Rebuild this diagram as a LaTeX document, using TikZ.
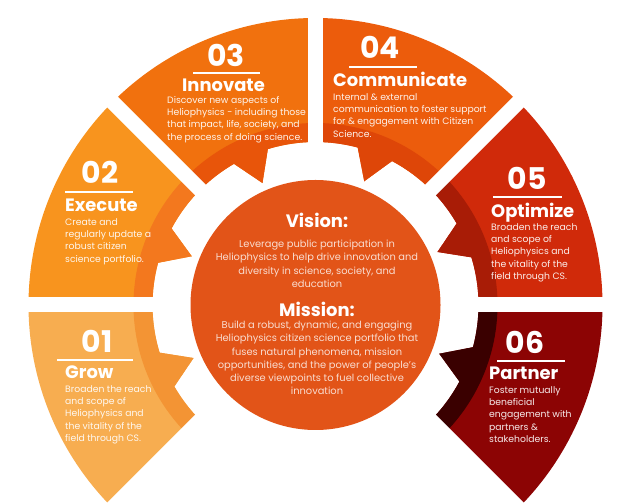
\documentclass[tikz,border=0pt]{standalone}
\usepackage{fontspec}
\setmainfont{Poppins}
\usetikzlibrary{positioning}
\definecolor{GrowBody}{RGB}{247,173,80}
\definecolor{GrowBand}{RGB}{243,148,52}
\definecolor{ExecBody}{RGB}{248,148,30}
\definecolor{ExecBand}{RGB}{243,120,30}
\definecolor{InnoBody}{RGB}{241,113,14}
\definecolor{InnoBand}{RGB}{232,85,10}
\definecolor{CommBody}{RGB}{236,92,12}
\definecolor{CommBand}{RGB}{222,70,8}
\definecolor{OptiBody}{RGB}{208,42,10}
\definecolor{OptiBand}{RGB}{168,28,6}
\definecolor{PartBody}{RGB}{140,4,4}
\definecolor{PartBand}{RGB}{58,0,0}
\definecolor{HubFill}{RGB}{226,84,24}
\tikzset{
  gap/.style={draw=white,line width=15bp},
  uline/.style={draw=white,line width=2bp},
  num/.style={text=white,font=\bfseries\fontsize{30}{30}\selectfont,inner sep=0pt},
  head/.style={text=white,font=\bfseries\fontsize{18}{18}\selectfont,inner sep=0pt,anchor=base west},
  txt/.style={font=\fontsize{9.3}{12.4}\selectfont,align=left,inner sep=0pt,anchor=north west},
  hubhead/.style={text=white,font=\bfseries\fontsize{18}{18}\selectfont,inner sep=0pt,anchor=base},
  hubtxt/.style={text=white!80!HubFill,font=\fontsize{9.9}{13.2}\selectfont,align=center,inner sep=0pt,anchor=north},
}

\begin{document}
\begin{tikzpicture}[x=1bp,y=1bp]
\useasboundingbox (0,0) rectangle (639,504);
\coordinate (C) at (315.5,199);

% ring of six pieces
\begin{scope}[shift={(C)}]
\foreach \a/\bd/\bn in {180/GrowBody/GrowBand,135/ExecBody/ExecBand,90/InnoBody/InnoBand,
    45/CommBody/CommBand,0/OptiBody/OptiBand,-45/PartBody/PartBand}{
  \fill[\bd] (\a:287) arc[start angle=\a,end angle=\a+45,radius=287] -- (\a+45:163)
    arc[start angle=\a+45,end angle=\a+30,radius=163] -- (\a+23.5:133) -- (\a+17:163)
    arc[start angle=\a+17,end angle=\a,radius=163] -- cycle;
  \fill[\bn] (\a:182) arc[start angle=\a,end angle=\a+45,radius=182] -- (\a+45:163)
    arc[start angle=\a+45,end angle=\a+30,radius=163] -- (\a+23.5:133) -- (\a+17:163)
    arc[start angle=\a+17,end angle=\a,radius=163] -- cycle;
}
\foreach \g in {225,180,...,-45}
  \draw[gap] (\g:118) -- (\g:300);
\fill[HubFill] (0,0) circle[radius=125];
\end{scope}

% 01
\node[num] (n1) at (97,163) {01};
\draw[uline] (57,144) -- (133,144);
\node[head] (t1) at (65,125) {Grow};
\node[txt,text=white!92!GrowBody] (b1) at (65,119) {Broaden the reach\\and scope of\\Heliophysics and\\the vitality of the\\field through CS.};

% 02
\node[num] (n2) at (100,332) {02};
\draw[uline] (65,312) -- (133,312);
\node[head] (t2) at (65,292) {Execute};
\node[txt,text=white!92!ExecBody] (b2) at (65,286) {Create and\\regularly update a\\robust citizen\\science portfolio.};

% 03
\node[num] (n3) at (226,449) {03};
\draw[uline] (193,431) -- (260,431);
\node[head] (t3) at (182,412) {Innovate};
\node[txt,text=white!92!InnoBody] (b3) at (167,408) {Discover new aspects of\\Heliophysics - including those\\that impact, life, society, and\\the process of doing science.};

% 04
\node[num] (n4) at (380,457) {04};
\draw[uline] (349,437) -- (417,437);
\node[head] (t4) at (333,417) {Communicate};
\node[txt,text=white!92!CommBody] (b4) at (333,411) {Internal \& external\\communication to foster support\\for \& engagement with Citizen\\Science.};

% 05
\node[num] (n5) at (527,326) {05};
\draw[uline] (493,307) -- (562,307);
\node[head] (t5) at (491,286) {Optimize};
\node[txt,text=white!92!OptiBody] (b5) at (491,281) {Broaden the reach\\and scope of\\Heliophysics and\\the vitality of the\\field through CS.};

% 06
\node[num] (n6) at (525,162) {06};
\draw[uline] (497,143) -- (565,143);
\node[head] (t6) at (489,124) {Partner};
\node[txt,text=white!92!PartBody] (b6) at (489,118) {Foster mutually\\beneficial\\engagement with\\partners \&\\stakeholders.};

% centre
\node[hubhead] (vis) at (317,276) {Vision:};
\node[hubtxt] (vistxt) at (317,264) {Leverage public participation in\\Heliophysics to help drive innovation and\\diversity in science, society, and\\education};
\node[hubhead] (mis) at (317,187) {Mission:};
\node[hubtxt] (mistxt) at (317,183) {Build a robust, dynamic, and engaging\\Heliophysics citizen science portfolio that\\fuses natural phenomena, mission\\opportunities, and the power of people’s\\diverse viewpoints to fuel collective\\innovation};
\end{tikzpicture}
\end{document}
